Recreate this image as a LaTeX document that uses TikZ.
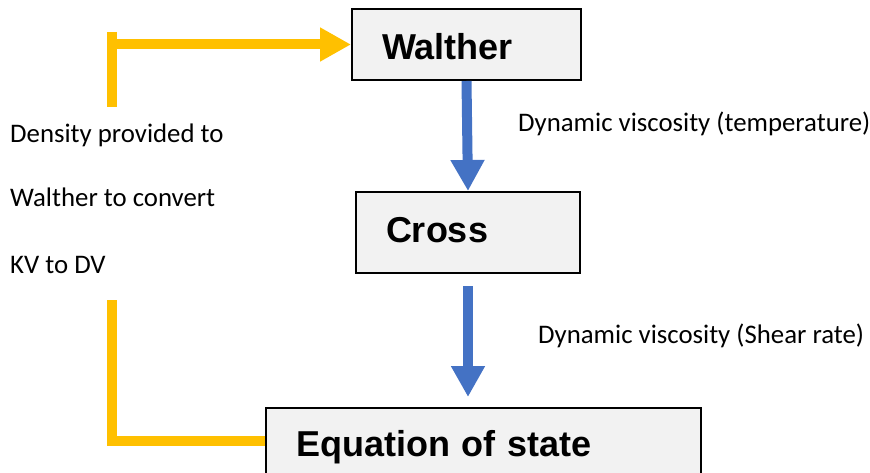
\documentclass[tikz,border=0pt]{standalone}
\usepackage{fontspec}
\setmainfont{Carlito}
\newfontfamily\boxfont{Liberation Sans}
\usetikzlibrary{arrows.meta}

\definecolor{feedyellow}{HTML}{FFC000}
\definecolor{flowblue}{HTML}{4472C4}
\definecolor{boxgray}{HTML}{F2F2F2}

\tikzset{
	model/.style={draw=black, line width=2pt, fill=boxgray, anchor=north west,
		inner xsep=30pt, align=left, text height=31pt, text depth=0pt,
		font=\boxfont\bfseries\fontsize{36}{40}\selectfont},
	flow/.style={flowblue, line width=10pt, -{Triangle[width=32pt,length=31pt]}},
	feed/.style={feedyellow, line width=10pt},
	note/.style={anchor=base west, inner sep=0pt, font=\fontsize{26.8}{31}\selectfont}
}

\begin{document}
\begin{tikzpicture}[x=1pt,y=-1pt]
	\useasboundingbox (0,0) rectangle (870,473);

	% model boxes
	\node[model, minimum width=229pt, minimum height=71pt, text width=169pt] (walther) at (351,8) {Walther};
	\node[model, minimum width=224pt, minimum height=81pt, text width=164pt, text height=20pt] (cross) at (355,191) {Cross};
	\node[model, minimum width=435pt, minimum height=66pt, text width=375pt] (eos) at (265,407) {Equation of state};

	% viscosity passed down
	\draw[flow] (walther.south) -- (cross.north);
	\draw[flow, shorten <=12pt, shorten >=10pt] (cross.south) -- (cross.south |- eos.north);
	\node[note] (visctemp) at (518,132) {Dynamic viscosity (temperature)};
	\node[note] (viscshear) at (538,343) {Dynamic viscosity (Shear rate)};

	% density fed back to Walther
	\coordinate (dtop) at (112,32);
	\coordinate (dbot) at (112,107);
	\coordinate (dlow) at (112,300);
	\draw[feed] (dtop) -- (dbot);
	\draw[feed, -{Triangle[width=32pt,length=31pt]}] (dtop |- walther.west) -- (walther.west);
	\draw[feed] (dlow) |- (eos.west);
	\node[note] (dens1) at (10,143) {Density provided to};
	\node[note] (dens2) at (10,207) {Walther to convert};
	\node[note] (dens3) at (10,273) {KV to DV};
\end{tikzpicture}
\end{document}
